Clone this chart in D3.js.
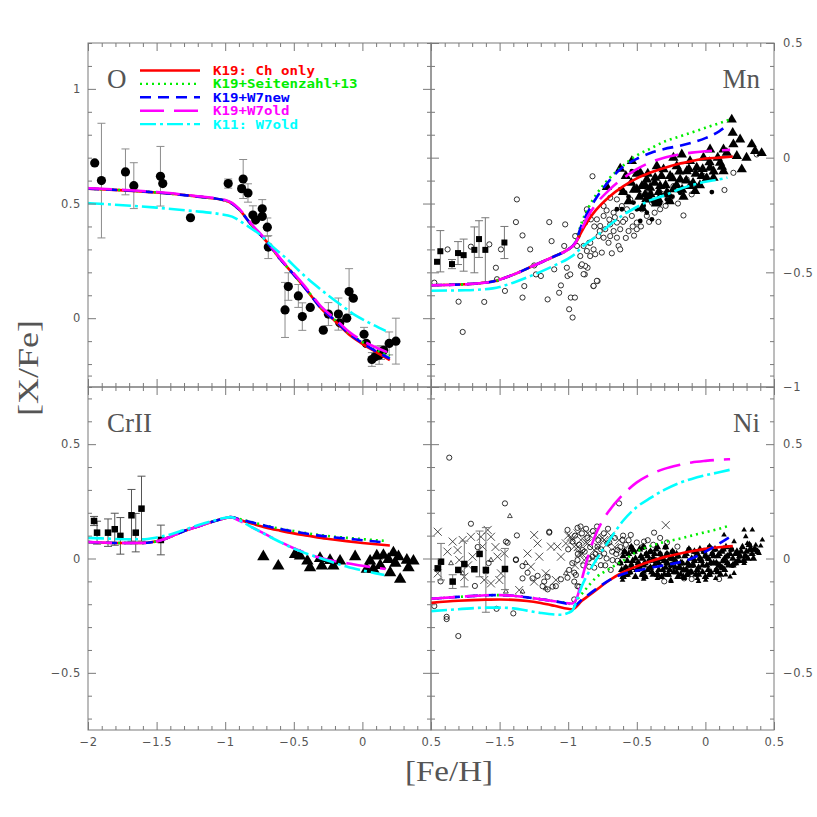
<!DOCTYPE html>
<html><head><meta charset="utf-8">
<script src="https://cdn.jsdelivr.net/npm/d3@7"></script>
<style>body{margin:0;background:#fff}</style>
</head><body><svg id="c" width="817" height="817"></svg>
<script>
// ---------- DATA ----------
const xTickMajor = [-2,-1.5,-1,-0.5,0,0.5];
const legendLabels = ["K19: Ch only","K19+Seitenzahl+13","K19+W7new","K19+W7old","K11: W7old"];
const modelKeys = ["red","green","blue","mag","cyan"];
const panelNames = ["O","Mn","CrII","Ni"];

// O panel models
const oRed = [[-2,0.565],[-1.5,0.548],[-1.2,0.53],[-1.0,0.513],[-0.95,0.5],[-0.9,0.475],[-0.8,0.4],[-0.7,0.335],[-0.6,0.258],[-0.5,0.19],[-0.4,0.118],[-0.3,0.042],[-0.2,-0.012],[-0.1,-0.07],[0,-0.112],[0.1,-0.148],[0.2,-0.183]];
const oGreen = [[-2,0.565],[-1.5,0.548],[-1.2,0.53],[-1.0,0.513],[-0.95,0.5],[-0.9,0.475],[-0.8,0.4],[-0.7,0.335],[-0.6,0.258],[-0.5,0.19],[-0.4,0.12],[-0.3,0.045],[-0.2,-0.008],[-0.1,-0.064],[0,-0.104],[0.1,-0.138],[0.2,-0.165]];
const oBlue = [[-2,0.565],[-1.5,0.548],[-1.2,0.53],[-1.0,0.513],[-0.95,0.5],[-0.9,0.475],[-0.8,0.4],[-0.7,0.335],[-0.6,0.258],[-0.5,0.19],[-0.4,0.118],[-0.3,0.043],[-0.2,-0.01],[-0.1,-0.066],[0,-0.108],[0.1,-0.145],[0.2,-0.176]];
const oMag = [[-2,0.567],[-1.5,0.55],[-1.2,0.532],[-1.0,0.515],[-0.95,0.503],[-0.9,0.478],[-0.8,0.405],[-0.7,0.34],[-0.6,0.262],[-0.5,0.195],[-0.4,0.125],[-0.3,0.05],[-0.2,-0.002],[-0.1,-0.058],[0,-0.098],[0.1,-0.128],[0.18,-0.148]];
const oCyan = [[-2,0.502],[-1.5,0.482],[-1.25,0.468],[-1.05,0.455],[-0.95,0.443],[-0.85,0.407],[-0.75,0.366],[-0.65,0.31],[-0.55,0.258],[-0.45,0.2],[-0.35,0.148],[-0.25,0.1],[-0.15,0.055],[-0.05,0.012],[0.05,-0.02],[0.17,-0.055]];
// O observations [FeH, OFe, err]
const oObs = [[-1.951,0.677,0],[-1.902,0.600,0.25],[-1.727,0.638,0.10],[-1.666,0.578,0.10],[-1.472,0.619,0.13],[-1.455,0.587,0],[-1.253,0.438,0],[-0.978,0.587,0.02],[-0.869,0.607,0.085],[-0.880,0.565,0],[-0.834,0.546,0.04],[-0.798,0.450,0.04],[-0.778,0.429,0],[-0.730,0.477,0.04],[-0.730,0.444,0],[-0.693,0.397,0.04],[-0.686,0.310,0.05],[-0.540,0.138,0.06],[-0.564,0.036,0.12],[-0.467,0.097,0.05],[-0.438,0.007,0.06],[-0.380,0.047,0],[-0.285,-0.052,0],[-0.248,0.018,0.05],[-0.175,0.018,0.07],[-0.165,-0.020,0],[-0.114,0.0,0],[-0.097,0.116,0.10],[-0.066,0.087,0],[0.012,-0.07,0.03],[0.029,-0.110,0],[0.069,-0.180,0.03],[0.093,-0.168,0],[0.122,-0.161,0.04],[0.195,-0.110,0.05],[0.244,-0.100,0.10],[0.155,-0.14,0],[0.135,-0.15,0.03]];

// Mn panel models
const mnRed = [[-2,-0.556],[-1.75,-0.552],[-1.55,-0.54],[-1.4,-0.51],[-1.25,-0.47],[-1.1,-0.43],[-1.0,-0.40],[-0.95,-0.375],[-0.9,-0.32],[-0.85,-0.27],[-0.8,-0.23],[-0.7,-0.17],[-0.6,-0.125],[-0.5,-0.09],[-0.4,-0.065],[-0.3,-0.045],[-0.2,-0.028],[-0.1,-0.015],[0,-0.004],[0.1,0.0],[0.2,0.005]];
const mnGreen = [[-2,-0.556],[-1.75,-0.552],[-1.55,-0.54],[-1.4,-0.51],[-1.25,-0.47],[-1.1,-0.43],[-1.0,-0.40],[-0.95,-0.372],[-0.9,-0.28],[-0.85,-0.215],[-0.8,-0.165],[-0.7,-0.09],[-0.6,-0.035],[-0.5,0.01],[-0.4,0.04],[-0.3,0.07],[-0.2,0.09],[-0.1,0.11],[0,0.13],[0.1,0.15],[0.18,0.167]];
const mnBlue = [[-2,-0.556],[-1.75,-0.552],[-1.55,-0.54],[-1.4,-0.51],[-1.25,-0.47],[-1.1,-0.43],[-1.0,-0.40],[-0.95,-0.372],[-0.9,-0.29],[-0.85,-0.23],[-0.8,-0.18],[-0.7,-0.1],[-0.6,-0.04],[-0.5,-0.005],[-0.4,0.02],[-0.3,0.038],[-0.2,0.05],[-0.1,0.065],[0,0.085],[0.1,0.115],[0.17,0.146]];
const mnMag = [[-2,-0.556],[-1.75,-0.552],[-1.55,-0.54],[-1.4,-0.51],[-1.25,-0.47],[-1.1,-0.43],[-1.0,-0.40],[-0.95,-0.374],[-0.9,-0.31],[-0.85,-0.25],[-0.8,-0.205],[-0.7,-0.14],[-0.6,-0.09],[-0.5,-0.05],[-0.4,-0.02],[-0.3,0.0],[-0.2,0.013],[-0.1,0.022],[0,0.028],[0.1,0.032],[0.18,0.034]];
const mnCyan = [[-2,-0.58],[-1.75,-0.578],[-1.55,-0.57],[-1.4,-0.545],[-1.25,-0.51],[-1.1,-0.47],[-1.0,-0.44],[-0.95,-0.42],[-0.9,-0.39],[-0.8,-0.345],[-0.7,-0.295],[-0.6,-0.25],[-0.5,-0.215],[-0.4,-0.185],[-0.3,-0.165],[-0.2,-0.14],[-0.1,-0.12],[0,-0.105],[0.1,-0.095],[0.16,-0.087]];
const mnSq = [[-1.956,-0.454,0],[-1.932,-0.408,0.09],[-1.847,-0.464,0.02],[-1.803,-0.416,0.05],[-1.762,-0.425,0.07],[-1.684,-0.402,0.10],[-1.650,-0.355,0.08],[-1.604,-0.402,0.14],[-1.465,-0.370,0.07]];
const mnOpen = [[-1.976,-0.545],[-1.879,-0.400],[-1.799,-0.628],[-1.769,-0.760],[-1.709,-0.388],[-1.612,-0.629],[-1.575,-0.378],[-1.527,-0.480],[-1.519,-0.530],[-1.490,-0.400],[-1.461,-0.581],[-1.381,-0.281],[-1.374,-0.182],[-1.333,-0.339],[-1.333,-0.610],[-1.320,-0.560],[-1.277,-0.400],[-1.248,-0.470],[-1.235,-0.509],[-1.199,-0.516],[-1.150,-0.618],[-1.138,-0.281],[-1.121,-0.364],[-1.102,-0.487],[-1.066,-0.589],[-1.053,-0.557],[-1.029,-0.385],[-1.022,-0.291],[-1.010,-0.480],[-1.005,-0.516],[-0.993,-0.661],[-0.981,-0.610],[-0.968,-0.697],[-0.951,-0.610],[-0.985,-0.509],[-0.932,-0.342],[-0.908,-0.472],[-0.879,-0.509],[-0.859,-0.480],[-0.847,-0.371],[-0.816,-0.560],[-0.786,-0.538],[-0.823,-0.081],[-0.859,-0.233],[-0.835,-0.269],[-0.840,-0.429],
[-0.864,-0.225],[-0.852,-0.254],[-0.876,-0.283],[-0.791,-0.269],[-0.742,-0.254],[-0.767,-0.298],[-0.730,-0.312],[-0.694,-0.291],[-0.669,-0.320],[-0.645,-0.283],[-0.621,-0.312],[-0.779,-0.342],[-0.742,-0.349],[-0.706,-0.371],[-0.694,-0.342],[-0.645,-0.349],[-0.633,-0.385],[-0.839,-0.371],[-0.888,-0.385],[-0.864,-0.407],[-0.815,-0.400],[-0.803,-0.421],[-0.755,-0.414],[-0.682,-0.417],[-0.621,-0.400],[-0.949,-0.342],[-0.936,-0.385],[-0.912,-0.429],[-0.876,-0.472],[-0.900,-0.465],[-0.791,-0.537],[-0.815,-0.559],[-0.888,-0.508],
[-0.572,-0.225],[-0.536,-0.254],[-0.500,-0.283],[-0.560,-0.320],[-0.500,-0.312],[-0.463,-0.225],[-0.427,-0.254],[-0.390,-0.196],[-0.342,-0.280],[-0.330,-0.225],[-0.257,-0.182],[-0.160,-0.252],[-0.585,-0.269],[-0.669,-0.240],[-0.609,-0.211],[-0.548,-0.182],[-0.475,-0.167],[-0.403,-0.153],[-0.305,-0.138],[-0.233,-0.124],[-0.136,-0.095],[-0.014,-0.080],[0.139,-0.141],[0.204,-0.066],[0.374,0.014],[-0.694,-0.175],[-0.742,-0.211],[-0.645,-0.182],[-0.72,-0.23],[-0.66,-0.26],[-0.6,-0.28],[-0.53,-0.3],[-0.81,-0.3],[-0.77,-0.32],[-0.7,-0.27],[-0.58,-0.35],[-0.52,-0.34],[-0.47,-0.3],[-0.41,-0.28],[-0.37,-0.24],[-0.29,-0.21],[-0.2,-0.2],[-0.1,-0.16]];
const mnFilled = [[-0.536,-0.059],[-0.621,-0.138],[-0.645,-0.225],[-0.585,-0.153],[-0.475,-0.276],[-0.390,-0.269],[-0.427,-0.240],[-0.500,-0.225],[-0.524,-0.196],[-0.378,-0.196],[-0.281,-0.182],[-0.184,-0.153],[0.047,-0.150],[-0.063,-0.124],[-0.609,-0.225],[-0.56,-0.17],[-0.45,-0.21],[-0.33,-0.2],[-0.24,-0.17]];
const mnTri = [[-0.621,-0.048],[-0.718,-0.128],[-0.536,-0.015],[-0.475,-0.066],[-0.427,-0.095],[-0.463,-0.124],[-0.403,-0.131],[-0.500,-0.138],[-0.366,-0.088],[-0.330,-0.124],[-0.305,-0.051],[-0.257,-0.080],[-0.233,-0.138],[-0.281,-0.153],[-0.209,-0.037],[-0.184,-0.095],[-0.136,-0.059],[-0.112,-0.124],[-0.075,-0.146],[-0.063,-0.044],[-0.027,-0.080],[0.034,-0.044],[0.059,-0.088],[0.107,-0.022],[0.132,-0.059],[0.156,0.021],[0.204,0.058],[0.192,0.166],[0.199,0.108],[0.253,0.079],[0.265,-0.051],[0.229,0.007],[0.338,0.058],[0.362,0.029],[-0.172,0.014],[-0.354,-0.037],[-0.403,-0.182],[-0.342,-0.182],[-0.439,-0.160],[-0.233,0.0],[-0.112,-0.015],[0.034,0.036],[0.132,0.036],[-0.014,0.0],
[-0.58,-0.08],[-0.54,-0.11],[-0.5,-0.07],[-0.48,-0.17],[-0.44,-0.12],[-0.42,-0.07],[-0.4,-0.16],[-0.37,-0.11],[-0.34,-0.15],[-0.32,-0.08],[-0.29,-0.12],[-0.27,-0.16],[-0.24,-0.09],[-0.21,-0.12],[-0.19,-0.06],[-0.17,-0.14],[-0.14,-0.1],[-0.12,-0.05],[-0.09,-0.11],[-0.07,-0.07],[-0.04,-0.12],[-0.02,-0.05],[0.01,-0.09],[0.03,-0.02],[0.06,-0.06],[0.09,0.0],[0.12,-0.04],[-0.6,-0.15],[-0.56,-0.19],[-0.46,-0.22],[-0.36,-0.2],[-0.26,-0.19],[-0.16,-0.17],[-0.52,-0.14],[-0.43,-0.18],[0.3,0.0],[0.41,0.02]];

// CrII panel models
const crRed = [[-2,0.072],[-1.8,0.068],[-1.6,0.068],[-1.5,0.075],[-1.4,0.095],[-1.3,0.12],[-1.2,0.14],[-1.1,0.16],[-1.0,0.176],[-0.96,0.181],[-0.9,0.17],[-0.8,0.152],[-0.7,0.135],[-0.6,0.122],[-0.5,0.11],[-0.4,0.1],[-0.3,0.09],[-0.2,0.082],[-0.1,0.075],[0,0.068],[0.1,0.062],[0.2,0.057]];
const crGreen = [[-2,0.072],[-1.8,0.068],[-1.6,0.068],[-1.5,0.075],[-1.4,0.095],[-1.3,0.12],[-1.2,0.14],[-1.1,0.16],[-1.0,0.176],[-0.96,0.181],[-0.9,0.173],[-0.8,0.158],[-0.7,0.143],[-0.6,0.13],[-0.5,0.12],[-0.4,0.11],[-0.3,0.102],[-0.2,0.095],[-0.1,0.09],[0,0.085],[0.1,0.08],[0.17,0.077]];
const crBlue = [[-2,0.072],[-1.8,0.068],[-1.6,0.068],[-1.5,0.075],[-1.4,0.095],[-1.3,0.12],[-1.2,0.14],[-1.1,0.16],[-1.0,0.176],[-0.96,0.181],[-0.9,0.172],[-0.8,0.157],[-0.7,0.142],[-0.6,0.129],[-0.5,0.118],[-0.4,0.108],[-0.3,0.099],[-0.2,0.092],[-0.1,0.086],[0,0.08],[0.1,0.074],[0.17,0.07]];
const crMag = [[-2,0.072],[-1.8,0.068],[-1.6,0.068],[-1.5,0.075],[-1.4,0.095],[-1.3,0.12],[-1.2,0.14],[-1.1,0.16],[-1.0,0.176],[-0.96,0.181],[-0.9,0.166],[-0.8,0.135],[-0.7,0.104],[-0.6,0.073],[-0.5,0.045],[-0.4,0.021],[-0.3,0.002],[-0.2,-0.012],[-0.1,-0.022],[0,-0.032],[0.1,-0.04],[0.17,-0.046]];
const crCyan = [[-2,0.09],[-1.9,0.088],[-1.7,0.084],[-1.6,0.084],[-1.5,0.092],[-1.4,0.105],[-1.3,0.125],[-1.2,0.145],[-1.1,0.163],[-1.0,0.178],[-0.96,0.181],[-0.9,0.168],[-0.8,0.135],[-0.7,0.103],[-0.6,0.072],[-0.5,0.043],[-0.4,0.02],[-0.3,0.0],[-0.2,-0.02],[-0.1,-0.038],[0,-0.052],[0.1,-0.065],[0.16,-0.072]];
const crSq = [[-1.956,0.164,0.02],[-1.934,0.113,0.05],[-1.854,0.113,0.06],[-1.805,0.128,0.07],[-1.764,0.099,0.08],[-1.683,0.189,0.113],[-1.652,0.113,0.084],[-1.61,0.218,0.142],[-1.469,0.081,0.065]];
const crTri = [[-0.722,0.008],[-0.613,-0.033],[-0.491,0.018],[-0.455,0.011],[-0.401,-0.011],[-0.382,-0.040],[-0.309,0.0],[-0.296,-0.032],[-0.236,-0.008],[-0.212,-0.033],[-0.163,-0.011],[-0.053,0.008],[0.032,-0.047],[0.056,-0.011],[0.105,0.011],[0.153,0.014],[0.190,-0.004],[0.226,0.025],[0.263,0.008],[0.202,-0.062],[0.275,-0.091],[0.336,-0.040],[0.324,-0.007],[0.372,-0.011],[0.080,-0.047],[0.24,-0.02],[0.13,-0.03]];

// Ni panel models
const niRed = [[-2,-0.194],[-1.8,-0.185],[-1.6,-0.18],[-1.5,-0.179],[-1.4,-0.181],[-1.3,-0.186],[-1.2,-0.195],[-1.1,-0.207],[-1.0,-0.22],[-0.97,-0.222],[-0.9,-0.185],[-0.8,-0.14],[-0.7,-0.095],[-0.6,-0.06],[-0.5,-0.034],[-0.4,-0.012],[-0.3,0.006],[-0.2,0.02],[-0.1,0.032],[0,0.042],[0.1,0.049],[0.2,0.054]];
const niGreen = [[-2,-0.176],[-1.8,-0.168],[-1.6,-0.161],[-1.5,-0.16],[-1.4,-0.163],[-1.3,-0.17],[-1.2,-0.178],[-1.1,-0.187],[-1.0,-0.196],[-0.97,-0.2],[-0.93,-0.175],[-0.88,-0.14],[-0.8,-0.085],[-0.7,-0.045],[-0.6,-0.01],[-0.5,0.03],[-0.4,0.055],[-0.3,0.072],[-0.2,0.085],[-0.1,0.1],[0,0.115],[0.1,0.13],[0.18,0.145]];
const niBlue = [[-2,-0.176],[-1.8,-0.168],[-1.6,-0.161],[-1.5,-0.16],[-1.4,-0.163],[-1.3,-0.17],[-1.2,-0.178],[-1.1,-0.187],[-1.0,-0.2],[-0.97,-0.212],[-0.9,-0.18],[-0.8,-0.135],[-0.7,-0.095],[-0.6,-0.068],[-0.5,-0.053],[-0.4,-0.04],[-0.3,-0.03],[-0.2,-0.018],[-0.1,0.0],[0,0.03],[0.1,0.065],[0.18,0.095]];
const niMag = [[-2,-0.176],[-1.8,-0.168],[-1.6,-0.161],[-1.5,-0.16],[-1.4,-0.163],[-1.3,-0.17],[-1.2,-0.178],[-1.1,-0.187],[-1.0,-0.196],[-0.97,-0.197],[-0.93,-0.16],[-0.9,-0.09],[-0.85,0.02],[-0.8,0.105],[-0.75,0.165],[-0.7,0.21],[-0.6,0.28],[-0.5,0.333],[-0.4,0.368],[-0.3,0.392],[-0.2,0.408],[-0.1,0.42],[0,0.427],[0.1,0.432],[0.18,0.434]];
const niCyan = [[-2,-0.23],[-1.8,-0.222],[-1.6,-0.215],[-1.5,-0.215],[-1.4,-0.218],[-1.3,-0.228],[-1.2,-0.238],[-1.1,-0.245],[-1.05,-0.246],[-1.0,-0.238],[-0.97,-0.228],[-0.93,-0.17],[-0.9,-0.12],[-0.85,-0.06],[-0.8,-0.01],[-0.7,0.08],[-0.6,0.165],[-0.5,0.225],[-0.4,0.265],[-0.3,0.3],[-0.2,0.328],[-0.1,0.348],[0,0.364],[0.1,0.377],[0.18,0.388]];
const niSq = [[-1.951,-0.043,0],[-1.927,-0.014,0.08],[-1.842,-0.101,0.03],[-1.801,-0.050,0],[-1.757,-0.024,0.10],[-1.684,-0.047,0],[-1.646,0.020,0.1],[-1.600,-0.050,0.185],[-1.461,-0.046,0.09]];
const niCross = [[-1.951,0.117],[-1.951,-0.065],[-1.842,0.074],[-1.806,0.037],[-1.794,-0.007],[-1.769,0.081],[-1.757,-0.080],[-1.709,0.095],[-1.697,0.008],[-1.636,0.095],[-1.624,0.052],[-1.587,0.125],[-1.563,0.095],[-1.612,-0.094],[-1.563,-0.109],[-1.515,0.008],[-1.490,-0.065],[-1.466,0.022],[-1.502,-0.094],[-1.357,-0.138],[-1.272,-0.036],[-1.248,0.103],[-1.223,0.066],[-1.211,0.008],[-1.296,0.022],[-1.248,-0.101],[-1.163,-0.065],[-1.126,0.052],[-1.090,-0.094],[-1.078,0.052],[-1.053,0.008],[-1.017,0.066],[-0.981,0.095],[-0.956,0.052],[-0.920,0.022],[-0.908,0.081],[-0.859,0.066],[-0.811,0.037],[-0.786,0.095],[-0.738,0.081],[-0.289,0.146],[-0.932,0.110],[-0.883,-0.007],[-0.859,0.110],[-0.93,0.05],[-0.9,0.02],[-0.87,0.07],[-0.84,0.1],[-0.82,0.0],[-0.78,0.05],[-0.75,0.09],[-0.72,0.06],[-0.69,0.1],[-0.66,0.05],[-0.63,0.08],[-0.6,0.03],[-0.97,0.08],[-1.0,0.1],[-0.95,-0.03],[-1.88,0.03],[-1.73,-0.03],[-1.53,0.05]];
const niOpen = [[-1.867,0.441],[-1.461,0.241],[-1.709,0.152],[-1.374,0.101],[-1.138,0.113],[-0.932,0.134],[-0.629,0.241],[-0.374,0.113],[-1.801,-0.339],[-1.886,-0.255],[-1.886,-0.265],[-1.976,-0.208],[-1.522,-0.220],[-1.400,-0.240],[-1.442,0.069],[-1.381,-0.004],[-1.333,-0.033],[-1.296,-0.062],[-1.223,-0.076],[-1.187,-0.121],[-1.150,-0.135],[-1.090,-0.121],[-1.053,-0.091],[-1.005,-0.084],[-0.956,-0.062],[-0.932,-0.121],[-0.956,-0.179],[-1.005,0.125],[-0.968,0.074],[-0.932,-0.007],[-0.896,0.037],[-0.847,-0.036],[-0.823,0.008],[-0.786,0.052],[-0.762,-0.029],[-0.738,0.022],[-0.714,0.066],[-0.677,-0.007],[-0.641,0.037],[-0.604,0.081],[-0.544,0.103],[-0.447,0.074],[-0.204,0.052],[-0.155,-0.087],[-1.454,0.074],[-1.381,-0.007],[-1.138,0.117],[-1.150,-0.080],[-1.114,-0.123],[-1.175,-0.101],[-0.993,-0.050],[-0.944,-0.072],[-0.956,-0.101],[-0.920,-0.123],[-1.333,-0.087],[-1.260,-0.087],
[-0.95,0.1],[-0.92,0.06],[-0.9,0.11],[-0.88,0.03],[-0.86,0.09],[-0.84,0.05],[-0.82,0.12],[-0.8,0.02],[-0.78,0.08],[-0.76,0.04],[-0.74,0.11],[-0.72,0.0],[-0.7,0.07],[-0.68,0.03],[-0.66,0.09],[-0.64,-0.01],[-0.62,0.05],[-0.6,0.1],[-0.58,0.06],[-0.56,0.08],[-0.54,0.04],[-0.5,0.07],[-0.46,0.05],[-0.42,0.08],[-0.93,0.02],[-0.89,-0.03],[-0.85,0.0],[-0.81,-0.04],[-0.77,0.01],[-0.73,-0.03],[-0.69,-0.05],[-0.65,0.02],[-1.0,0.04],[-0.97,-0.02],[-0.91,0.14],[-0.87,0.13],[-0.79,0.14],[-0.71,0.13],[-0.38,0.06],[-0.33,0.09],[-0.28,0.07],[-0.3,-0.1],[-0.1,-0.09],[0.1,-0.09],[-1.93,-0.1],[-1.66,0.05],[-1.58,-0.02],[-1.68,-0.12]];
const niOpenTri = [[-1.425,0.185],[-1.563,-0.007],[-1.454,-0.145],[-1.333,-0.145],[-1.163,-0.131],[-1.017,-0.065],[-1.769,-0.065],[-1.854,-0.021],[-1.6,-0.06],[-1.31,-0.02]];
const niFillTri = [[-0.604,-0.094],[-0.532,-0.043],[-0.447,-0.058],[-0.350,-0.087],[-0.252,-0.094],[-0.155,-0.087],[-0.058,-0.087],[0.002,-0.094],[0.075,-0.087],[0.148,-0.072],[0.209,-0.065],[0.282,-0.021],[0.330,0.037],[0.391,0.022],[0.415,0.081],[0.342,0.125],[0.282,0.125],[0.136,0.103],[0.209,0.074],[0.306,0.066],[0.233,0.022],[0.294,0.096],[0.367,0.059],[0.403,0.055],[-0.45,-0.09],[-0.25,-0.1],[-0.05,-0.1],[0.18,-0.08]];
const niDense = [[-0.62,-0.02],[-0.6,0.01],[-0.58,-0.04],[-0.56,0.02],[-0.55,-0.06],[-0.53,-0.01],[-0.52,0.03],[-0.5,-0.05],[-0.49,-0.02],[-0.47,0.01],[-0.46,-0.07],[-0.45,-0.03],[-0.43,0.02],[-0.42,-0.05],[-0.41,-0.01],[-0.39,-0.06],[-0.38,0.0],[-0.37,-0.03],[-0.35,-0.07],[-0.34,-0.02],[-0.33,0.02],[-0.31,-0.05],[-0.3,-0.01],[-0.29,-0.04],[-0.27,-0.07],[-0.26,0.0],[-0.25,-0.03],[-0.23,-0.06],[-0.22,-0.01],[-0.21,0.02],[-0.19,-0.04],[-0.18,-0.07],[-0.17,-0.02],[-0.15,0.01],[-0.14,-0.05],[-0.13,-0.02],[-0.11,-0.06],[-0.1,0.0],[-0.09,-0.03],[-0.07,-0.07],[-0.06,0.02],[-0.05,-0.04],[-0.03,-0.01],[-0.02,-0.06],[-0.01,0.03],[0.01,-0.03],[0.02,0.0],[0.04,-0.06],[0.05,0.02],[0.06,-0.02],[0.08,-0.05],[0.09,0.01],[0.1,-0.03],[0.12,0.03],[0.13,-0.01],[0.14,-0.05],[0.16,0.01],[0.17,-0.03],[0.19,0.04],[0.2,0.0],[0.22,-0.02],[0.23,0.03],[0.25,0.01],[0.27,0.05],[0.28,-0.01],[0.3,0.03],[0.32,0.06],[0.34,0.02],[0.36,0.04],[-0.48,0.04],[-0.4,0.03],[-0.32,-0.08],[-0.24,0.03],[-0.16,-0.08],[-0.08,0.03],[0.0,-0.08],[0.07,0.04],[0.15,0.05],[-0.44,-0.08],[-0.36,0.04],[-0.28,0.02],[-0.2,-0.08],[-0.12,0.04],[-0.04,0.04],[0.03,0.05],[0.11,-0.07],[-0.57,-0.07],[-0.51,-0.08],[-0.54,0.05],
[-0.61,-0.05],[-0.59,0.03],[-0.57,-0.01],[-0.54,-0.03],[-0.51,0.0],[-0.48,-0.04],[-0.46,0.0],[-0.44,-0.02],[-0.42,0.01],[-0.4,-0.04],[-0.38,-0.07],[-0.36,-0.01],[-0.34,-0.05],[-0.32,0.0],[-0.3,-0.07],[-0.28,-0.02],[-0.26,-0.05],[-0.24,0.0],[-0.22,-0.04],[-0.2,0.01],[-0.18,-0.02],[-0.16,-0.05],[-0.14,0.02],[-0.12,-0.03],[-0.1,-0.06],[-0.08,-0.01],[-0.06,-0.05],[-0.04,0.0],[-0.02,-0.03],[0.0,0.01],[0.02,-0.05],[0.04,-0.02],[0.06,0.01],[0.08,-0.02],[0.1,0.02],[0.12,-0.04],[0.14,0.0],[0.16,-0.02],[0.18,0.02],[0.2,-0.03],[0.22,0.02],[0.24,-0.01],[0.26,0.03],[0.29,0.01],[0.31,0.0],[0.33,0.04],[0.35,0.0],[0.38,0.03],[-0.53,0.04],[-0.45,0.05],[-0.37,0.02],[-0.29,0.05],[-0.21,-0.06],[-0.13,-0.07],[-0.05,-0.07],[0.03,-0.07],[0.09,-0.06],[-0.6,-0.08],[-0.35,0.05],[0.13,0.04]];

// ---------- STYLE ----------
const colors = {red:"#ff0000",green:"#00ee00",blue:"#0000ff",mag:"#ff00ff",cyan:"#00ffff"};
const dashes = {red:null,green:"2,4",blue:"11,7",mag:"24,10",cyan:"16,4,3,4"};
const frameCol = "#7a7a7a", textCol = "#555";

const svg = d3.select("#c");
const XL = [88,431], XR = [431,774], YT = [43,387], YB = [387,730];

const panels = [
  {name:"O", xr:XL, yr:YT, ydom:[-0.3,1.2], yMaj:[0,0.5,1], ySide:"left", xLabels:false,
   models:{red:oRed,green:oGreen,blue:oBlue,mag:oMag,cyan:oCyan}},
  {name:"Mn", xr:XR, yr:YT, ydom:[-1,0.5], yMaj:[-1,-0.5,0,0.5], ySide:"right", xLabels:false,
   models:{red:mnRed,green:mnGreen,blue:mnBlue,mag:mnMag,cyan:mnCyan}},
  {name:"CrII", xr:XL, yr:YB, ydom:[-0.75,0.75], yMaj:[-0.5,0,0.5], ySide:"left", xLabels:true,
   models:{red:crRed,green:crGreen,blue:crBlue,mag:crMag,cyan:crCyan}},
  {name:"Ni", xr:XR, yr:YB, ydom:[-0.75,0.75], yMaj:[-0.5,0,0.5], ySide:"right", xLabels:true,
   models:{red:niRed,green:niGreen,blue:niBlue,mag:niMag,cyan:niCyan}}
];

const fmt = d => d === 0 ? "0" : (d < 0 ? "\u2212" : "") + Math.abs(d);
const tri = (area) => d3.symbol().type(d3.symbolTriangle).size(area)();

function styleAxis(sel, showText){
  sel.select(".domain").remove();
  sel.selectAll("line").attr("stroke", frameCol).attr("stroke-width", 1);
  sel.selectAll("text").attr("font-family","DejaVu Sans, sans-serif").attr("font-size", 11.5)
     .attr("fill", textCol).attr("letter-spacing", 0.6);
  if(!showText) sel.selectAll("text").remove();
}

panels.forEach((p, i) => {
  const x = d3.scaleLinear([-2,0.5], p.xr);
  const y = d3.scaleLinear(p.ydom, [p.yr[1], p.yr[0]]);
  const g = svg.append("g");
  const clipId = "clip" + i;
  svg.append("defs").append("clipPath").attr("id", clipId).append("rect")
    .attr("x", p.xr[0]).attr("y", p.yr[0]).attr("width", p.xr[1]-p.xr[0]).attr("height", p.yr[1]-p.yr[0]);
  const body = g.append("g").attr("clip-path", `url(#${clipId})`);

  const xMinor = d3.range(-20, 6).map(k => k/10).filter(v => !xTickMajor.some(m => Math.abs(m-v) < 1e-9));
  const yMinor = d3.range(Math.round(p.ydom[0]*10), Math.round(p.ydom[1]*10)+1).map(k => k/10)
                   .filter(v => !p.yMaj.some(m => Math.abs(m-v) < 1e-9));
  let xLabVals = p.name === "Ni" ? xTickMajor.filter(v => v > -2) : xTickMajor;
  g.append("g").attr("transform",`translate(0,${p.yr[1]})`).call(d3.axisBottom(x).tickValues(xMinor).tickSize(-4).tickFormat("")).call(s=>styleAxis(s,false));
  g.append("g").attr("transform",`translate(0,${p.yr[1]})`).call(d3.axisBottom(x).tickValues(xTickMajor).tickSize(-8).tickPadding(8).tickFormat(v => xLabVals.includes(v) ? fmt(v) : "")).call(s=>styleAxis(s,p.xLabels));
  g.append("g").attr("transform",`translate(0,${p.yr[0]})`).call(d3.axisTop(x).tickValues(xMinor).tickSize(-4).tickFormat("")).call(s=>styleAxis(s,false));
  g.append("g").attr("transform",`translate(0,${p.yr[0]})`).call(d3.axisTop(x).tickValues(xTickMajor).tickSize(-8).tickFormat("")).call(s=>styleAxis(s,false));
  g.append("g").attr("transform",`translate(${p.xr[0]},0)`).call(d3.axisLeft(y).tickValues(yMinor).tickSize(-4).tickFormat("")).call(s=>styleAxis(s,false));
  g.append("g").attr("transform",`translate(${p.xr[0]},0)`).call(d3.axisLeft(y).tickValues(p.yMaj).tickSize(-8).tickPadding(7).tickFormat(fmt)).call(s=>styleAxis(s,p.ySide==="left"));
  g.append("g").attr("transform",`translate(${p.xr[1]},0)`).call(d3.axisRight(y).tickValues(yMinor).tickSize(-4).tickFormat("")).call(s=>styleAxis(s,false));
  g.append("g").attr("transform",`translate(${p.xr[1]},0)`).call(d3.axisRight(y).tickValues(p.yMaj).tickSize(-8).tickPadding(9).tickFormat(fmt)).call(s=>styleAxis(s,p.ySide==="right"));

  function errBars(data, col, cap){
    const e = body.append("g").attr("stroke", col).attr("stroke-width", 1).attr("fill","none");
    data.filter(d => d[2] > 0).forEach(d => {
      const cx = x(d[0]), y1 = y(d[1]+d[2]), y2 = y(d[1]-d[2]);
      e.append("line").attr("x1",cx).attr("x2",cx).attr("y1",y1).attr("y2",y2);
      e.append("line").attr("x1",cx-cap).attr("x2",cx+cap).attr("y1",y1).attr("y2",y1);
      e.append("line").attr("x1",cx-cap).attr("x2",cx+cap).attr("y1",y2).attr("y2",y2);
    });
  }
  function circles(data, r, fill, stroke){
    body.append("g").selectAll("circle").data(data).join("circle")
      .attr("cx", d => x(d[0])).attr("cy", d => y(d[1])).attr("r", r)
      .attr("fill", fill).attr("stroke", stroke || "none").attr("stroke-width", 0.8);
  }
  function triangles(data, area, fill, stroke){
    body.append("g").selectAll("path").data(data).join("path")
      .attr("d", tri(area)).attr("transform", d => `translate(${x(d[0])},${y(d[1])})`)
      .attr("fill", fill).attr("stroke", stroke || "none").attr("stroke-width", 0.7);
  }
  function squares(data, s){
    body.append("g").selectAll("rect").data(data).join("rect")
      .attr("x", d => x(d[0]) - s/2).attr("y", d => y(d[1]) - s/2).attr("width", s).attr("height", s).attr("fill", "#000");
  }
  function crosses(data, h){
    body.append("g").selectAll("path").data(data).join("path")
      .attr("d", d => { const cx=x(d[0]), cy=y(d[1]); return `M${cx-h},${cy-h}L${cx+h},${cy+h}M${cx-h},${cy+h}L${cx+h},${cy-h}`; })
      .attr("stroke", "#222").attr("stroke-width", 0.8).attr("fill", "none");
  }

  if(p.name === "O"){
    errBars(oObs, "#8c8c8c", 4);
    circles(oObs, 4.6, "#000");
  } else if(p.name === "Mn"){
    circles(mnOpen, 2.6, "#fff", "#000");
    circles(mnFilled, 2.4, "#000");
    triangles(mnTri, 46, "#000");
    errBars(mnSq, "#777", 4);
    squares(mnSq, 6);
  } else if(p.name === "CrII"){
    errBars(crSq, "#555", 4);
    squares(crSq, 6.5);
    triangles(crTri, 66, "#000");
  } else {
    crosses(niCross, 4);
    circles(niOpen, 2.6, "none", "#000");
    triangles(niOpenTri, 10, "none", "#000");
    triangles(niDense, 24, "#000");
    circles(niDense.filter((d,k)=>k%2===0), 2.6, "#000");
    triangles(niFillTri, 14, "#000");
    errBars(niSq, "#777", 4);
    squares(niSq, 6.5);
  }

  const line = d3.line().x(d => x(d[0])).y(d => y(d[1])).curve(d3.curveMonotoneX);
  modelKeys.forEach(k => {
    body.append("path").attr("d", line(p.models[k])).attr("fill","none")
      .attr("stroke", colors[k]).attr("stroke-width", 2.6)
      .attr("stroke-dasharray", dashes[k]).attr("stroke-linecap","butt");
  });

  g.append("rect").attr("x", p.xr[0]).attr("y", p.yr[0]).attr("width", p.xr[1]-p.xr[0]).attr("height", p.yr[1]-p.yr[0])
    .attr("fill","none").attr("stroke", frameCol).attr("stroke-width", 1);

  const lt = g.append("text").text(p.name).attr("font-family","Liberation Serif, serif").attr("font-size", 27)
    .attr("fill", "#555").attr("y", p.yr[0] + 45);
  if(p.ySide === "left") lt.attr("x", p.xr[0] + 19).attr("text-anchor","start");
  else lt.attr("x", p.xr[1] - 14).attr("text-anchor","end");
});

// legend
const lg = svg.append("g");
const legendWidths = [82,145,82,82,82];
legendLabels.forEach((t, i) => {
  const k = modelKeys[i];
  const yy = 70.5 + i * 13.4;
  lg.append("line").attr("x1",140).attr("x2",200).attr("y1",yy).attr("y2",yy)
    .attr("stroke", colors[k]).attr("stroke-width", 2.4).attr("stroke-dasharray", dashes[k]);
  lg.append("text").text(t).attr("x", 213).attr("y", yy + 4.5)
    .attr("font-family","DejaVu Sans Mono, monospace").attr("font-weight","bold").attr("font-size", 12.5)
    .attr("textLength", t.length * 8.5).attr("lengthAdjust","spacingAndGlyphs")
    .attr("fill", colors[k]);
});

svg.append("text").text("[X/Fe]").attr("transform","translate(38,368) rotate(-90)").attr("text-anchor","middle")
  .attr("font-family","Liberation Serif, serif").attr("font-size", 30).attr("fill", textCol)
  .attr("textLength", 96).attr("lengthAdjust","spacingAndGlyphs");
svg.append("text").text("[Fe/H]").attr("x", 449).attr("y", 781).attr("text-anchor","middle")
  .attr("font-family","Liberation Serif, serif").attr("font-size", 30).attr("fill", textCol)
  .attr("textLength", 88).attr("lengthAdjust","spacingAndGlyphs");
</script></body></html>
